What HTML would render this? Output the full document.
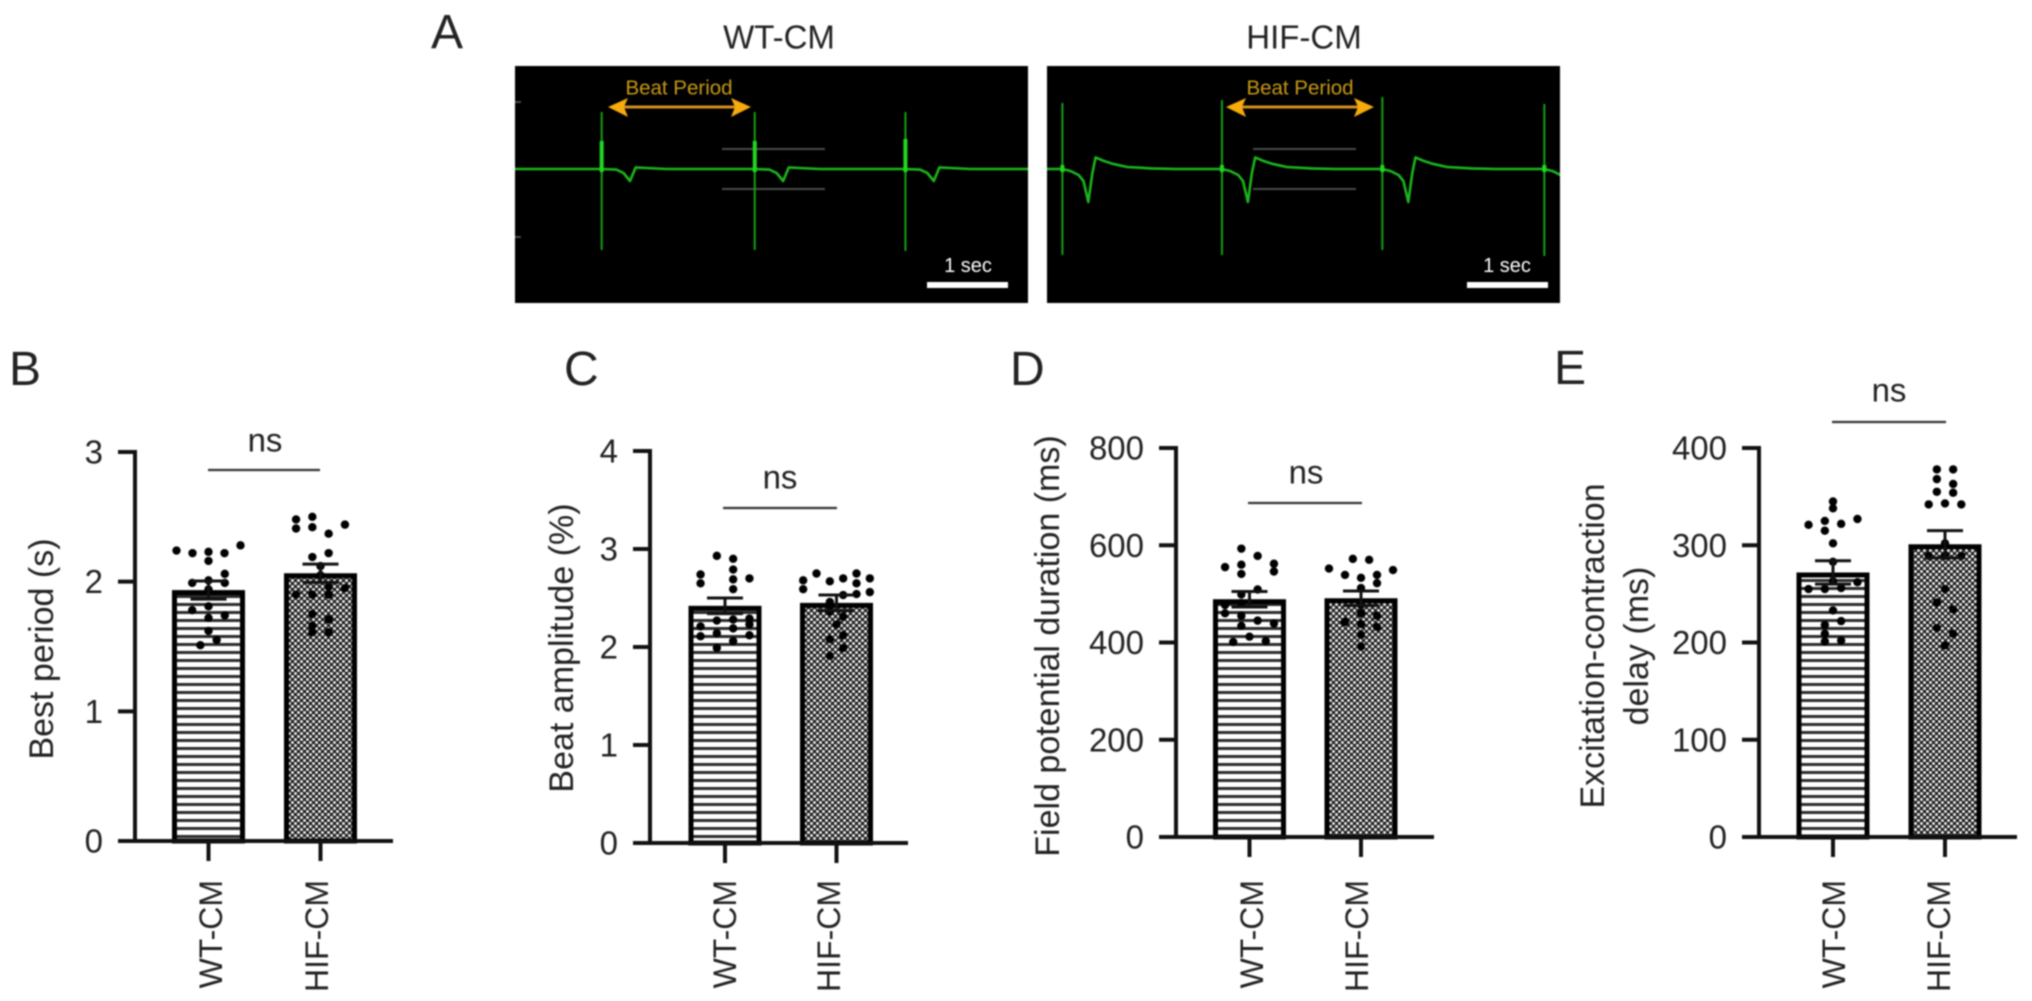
<!DOCTYPE html>
<html lang="en">
<head>
<meta charset="utf-8">
<title>Beat parameters of WT-CM and HIF-CM</title>
<style>
  html, body { margin: 0; padding: 0; background: #fff; }
  body { width: 2032px; height: 1001px; overflow: hidden; }
  svg { display: block; filter: blur(0.7px); }
  text { font-family: "Liberation Sans", sans-serif; fill: #222; }
</style>
</head>
<body>
<svg id="figure" xmlns="http://www.w3.org/2000/svg" width="2032" height="1001" viewBox="0 0 2032 1001">
  <defs>
    <pattern id="stripes" width="8" height="8" patternUnits="userSpaceOnUse">
      <rect width="8" height="8" fill="#fff"></rect>
      <rect y="3" width="8" height="3" fill="#2c2c2c"></rect>
    </pattern>
    <pattern id="checks" width="6" height="6" patternUnits="userSpaceOnUse">
      <rect width="6" height="6" fill="#1c1c1c"></rect>
      <circle cx="1.5" cy="1.5" r="1.5" fill="#f2f2f2"></circle>
      <circle cx="4.5" cy="4.5" r="1.5" fill="#f2f2f2"></circle>
    </pattern>
    <clipPath id="clip-wt"><rect x="515" y="66" width="513" height="237"></rect></clipPath>
    <clipPath id="clip-hif"><rect x="1047" y="66" width="513" height="237"></rect></clipPath>
  </defs>

  <text x="431" y="48" font-size="48">A</text>
  <text x="9" y="385" font-size="48">B</text>
  <text x="564" y="385" font-size="48">C</text>
  <text x="1010" y="385" font-size="48">D</text>
  <text x="1554" y="384" font-size="48">E</text>

  <text x="779" y="37" font-size="33" text-anchor="middle" dominant-baseline="central">WT-CM</text>
  <text x="1304" y="37" font-size="33" text-anchor="middle" dominant-baseline="central">HIF-CM</text>

  <rect x="515" y="66" width="513" height="237" fill="#000"></rect>
  <rect x="1047" y="66" width="513" height="237" fill="#000"></rect>

  <g stroke="#4a4a4a" stroke-width="2">
    <line x1="722" x2="825" y1="149" y2="149"></line>
    <line x1="722" x2="825" y1="189" y2="189"></line>
    <line x1="515" x2="521" y1="102" y2="102"></line>
    <line x1="515" x2="521" y1="237" y2="237"></line>
  </g>
  <g stroke="#4a4a4a" stroke-width="2">
    <line x1="1253" x2="1356" y1="149" y2="149"></line>
    <line x1="1253" x2="1356" y1="189" y2="189"></line>
  </g>

  <g id="traces"></g>

  <g>
    <text x="679" y="88" font-size="20.5" text-anchor="middle" dominant-baseline="central" style="fill:#c99a14">Beat Period</text>
    <line x1="622" x2="736" y1="107" y2="107" stroke="#d8901c" stroke-width="3"></line>
    <polygon points="608,107 628,98 624,107 628,117" fill="#f7ab0c"></polygon>
    <polygon points="751,107 731,98 735,107 731,117" fill="#f7ab0c"></polygon>
  </g>
  <g>
    <text x="1300" y="88" font-size="20.5" text-anchor="middle" dominant-baseline="central" style="fill:#c99a14">Beat Period</text>
    <line x1="1240" x2="1360" y1="107" y2="107" stroke="#d8901c" stroke-width="3"></line>
    <polygon points="1226,107 1246,98 1242,107 1246,117" fill="#f7ab0c"></polygon>
    <polygon points="1374,107 1354,98 1358,107 1354,117" fill="#f7ab0c"></polygon>
  </g>

  <text x="968" y="266" font-size="20" text-anchor="middle" dominant-baseline="central" style="fill:#fff">1 sec</text>
  <rect x="927" y="282" width="81" height="6" fill="#fff"></rect>
  <text x="1507" y="266" font-size="20" text-anchor="middle" dominant-baseline="central" style="fill:#fff">1 sec</text>
  <rect x="1467" y="282" width="81" height="6" fill="#fff"></rect>

  <g id="charts"></g>
</svg>

<script>
// ---------- Panel A trace data (seconds and normalised voltage units) ----------
const wtBeatTimes = [1.07, 2.96, 4.82];
const wtSpikeTops = [2.85, 2.85, 2.85];
const wtSpikeBottoms = [-4.05, -4.05, -4.1];
const wtSpikeCores = [1.4, 1.4, 1.5];
const wtWaveOffsets = [0, 0.18, 0.27, 0.35, 0.42, 0.55, 0.8, 1.1];
const wtWaveValues = [0, -0.03, -0.2, -0.6, 0.08, 0.05, 0.0, 0];

const hifBeatTimes = [0.19, 2.16, 4.14, 6.14];
const hifSpikeTops = [3.3, 3.45, 3.6, 3.25];
const hifSpikeBottoms = [-4.3, -4.3, -4.05, -4.35];
const hifSpikeCores = [0.2, 0.2, 0.2, 0.2];
const hifWaveOffsets = [0, 0.1, 0.2, 0.26, 0.32, 0.37, 0.41, 0.5, 0.62, 0.8, 1.1, 1.4];
const hifWaveValues = [0, -0.1, -0.3, -0.6, -1.65, -0.2, 0.58, 0.42, 0.26, 0.1, 0.03, 0];

// ---------- Bar chart data ----------
const categories = ['WT-CM', 'HIF-CM'];

const bTicks = [0, 1, 2, 3];
const bMeans = [1.935, 2.065];
const bSems = [0.07, 0.07];
const bWtRows = [
  [2.24, 2.22, 2.23, 2.22, 2.28], [2.16], [null, null, 2.06], [1.99, 2.01, 1.99], [1.94],
  [1.78, 1.81, 1.74], [1.72], [1.62], [1.51, 1.55]
];
const bHifRows = [
  [2.48, 2.50, null, null], [2.41, 2.42, 2.37, 2.44], [2.19, 2.22], [2.12], [2.05],
  [null, null, 1.96, 1.95], [1.90, 1.90, 1.90, null], [1.75, 1.71], [1.66, null], [1.61, 1.61]
];

const cTicks = [0, 1, 2, 3, 4];
const cMeans = [2.42, 2.45];
const cSems = [0.08, 0.08];
const cWtRows = [
  [null, 2.93, 2.90, null], [null, null, 2.79, null], [2.74, null, 2.69, 2.70], [2.65, null, 2.59, null],
  [null, 2.27, 2.28, 2.29], [2.21, null, 2.19, 2.23], [2.11, 2.14, null, 2.12], [null, 1.99, 2.06, null]
];
const cHifRows = [
  [null, 2.75, null, null, 2.75, null], [2.68, null, 2.67, 2.70, 2.65, 2.70], [2.59, null, null, 2.53, 2.54, 2.56],
  [null, null, 2.46, null, null, null], [null, null, 2.36, 2.31, null, null], [2.23],
  [null, null, 2.08, 2.12, null, null], [null, null, null, 1.99, null, null], [null, null, 1.91, null, null, null]
];

const dTicks = [0, 200, 400, 600, 800];
const dMeans = [489, 491];
const dSems = [16, 15];
const dWtRows = [
  [null, 593, null, null], [null, null, 578, null], [555, 560, null, 562], [null, 541, null, 546],
  [null, null, 509, null], [null, 499, null, null], [477, 481, null, null], [460, 455, null, null],
  [null, 434, 445, 439], [412], [401, null, 403]
];
const dHifRows = [
  [572, 570], [552, null, null, null, 549], [null, 539, 533, 539, null], [null, null, 512, 522, null],
  [null, null, 477, null, null], [null, null, 460, 455, null], [null, 442, 438, 432, null],
  [null, null, 416, null, null], [null, null, 392, null, null]
];

const eTicks = [0, 100, 200, 300, 400];
const eMeans = [272, 301];
const eSems = [12, 14];
const eWtRows = [
  [345], [338], [321, 325, 322, 327], [null, 315, null, null], [302], [283], [263],
  [255, 255, 256, 262], [233], [null, 218, 222, null], [null, 209, null, null], [null, 201, 202, null]
];
const eHifRows = [
  [378, 378], [368, null], [null, 363], [355, 354], [342, 343, 342], [302], [289, 289, 289],
  [255], [241, null], [null, 234], [215, null], [null, 209], [197]
];

// ---------- Drawing ----------
const NS = 'http://www.w3.org/2000/svg';
function mk(tag, attrs, parent) {
  const el = document.createElementNS(NS, tag);
  for (const key in attrs) el.setAttribute(key, attrs[key]);
  parent.appendChild(el);
  return el;
}

function drawTrace(key, left, clip, beats, tops, bottoms, cores, offsets, values) {
  const pxPerSecond = 81;
  const pxPerUnit = 20;
  const baselineY = 169;
  const x = t => left + t * pxPerSecond;
  const y = v => baselineY - v * pxPerUnit;
  const root = document.getElementById('traces');
  const g = mk('g', { 'clip-path': 'url(#' + clip + ')' }, root);
  
  

  let d = 'M' + left + ' ' + y(0);
  beats.forEach(beat => {
    offsets.forEach((off, i) => {
      d += ' L' + x(beat + off).toFixed(1) + ' ' + y(values[i]).toFixed(1);
    });
  });
  d += ' L' + (left + 520) + ' ' + y(0);
  const wave = mk('path', { d: d, fill: 'none', stroke: '#1cb51c', 'stroke-width': 2.6, 'stroke-linejoin': 'round' }, g);
  
  

  beats.forEach((beat, i) => {
    const spike = mk('line', { x1: x(beat), x2: x(beat), y1: y(tops[i]), y2: y(bottoms[i]), stroke: '#16a016', 'stroke-width': 2 }, g);
    
    
    const core = mk('line', { x1: x(beat), x2: x(beat), y1: y(cores[i]), y2: y(-0.15), stroke: '#22d622', 'stroke-width': 4 }, g);
    
    
  });
}

function drawPanel(p) {
  const root = document.getElementById('charts');
  const g = mk('g', {}, root);
  
  

  const maxTick = p.ticks[p.ticks.length - 1];
  const yScale = v => p.y0 - (v / maxTick) * (p.y0 - p.yTop);

  // bars, drawn first so that axes, whiskers and dots sit on top
  const barWidth = 73;
  const fills = ['url(#stripes)', 'url(#checks)'];
  categories.forEach((cat, i) => {
    const cx = p.barCenters[i];
    const top = yScale(p.means[i]);
    const bar = mk('rect', {
      x: cx - barWidth / 2 + 2.5, y: top + 2.5, width: barWidth - 5, height: p.y0 - top - 2.5,
      fill: fills[i], stroke: '#000', 'stroke-width': 5
    }, g);
    
    
  });

  // axes
  const yAxis = mk('line', { x1: p.axisX, x2: p.axisX, y1: p.yTop - 2, y2: p.y0 + 2, stroke: '#111', 'stroke-width': 4 }, g);
  
  
  const xAxis = mk('line', { x1: p.axisX - 17, x2: p.axisX + 258, y1: p.y0, y2: p.y0, stroke: '#111', 'stroke-width': 4 }, g);
  
  

  p.ticks.forEach(t => {
    const tick = mk('line', { x1: p.axisX - 17, x2: p.axisX, y1: yScale(t), y2: yScale(t), stroke: '#111', 'stroke-width': 4 }, g);
    
    
    const label = mk('text', { x: p.axisX - 32, y: yScale(t), 'font-size': 33, 'text-anchor': 'end', 'dominant-baseline': 'central' }, g);
    label.textContent = String(t);
    
    
  });

  categories.forEach((cat, i) => {
    const cx = p.barCenters[i];
    const tick = mk('line', { x1: cx, x2: cx, y1: p.y0, y2: p.y0 + 20, stroke: '#111', 'stroke-width': 4 }, g);
    
    
    const lx = p.labelCenters[i];
    const label = mk('text', {
      x: lx, y: 880, 'font-size': 32, 'text-anchor': 'end', 'dominant-baseline': 'central',
      transform: 'rotate(-90 ' + lx + ' 880)'
    }, g);
    label.textContent = cat;
    
    
  });

  // swarm dots: each row is centred on its bar
  const rowSets = [p.wtRows, p.hifRows];
  rowSets.forEach((rows, i) => {
    const cx = p.barCenters[i];
    rows.forEach(row => {
      const spacing = Math.min(16.3, 80 / row.length);
      row.forEach((v, j) => {
        if (v === null) return;
        const dot = mk('circle', { cx: cx + (j - (row.length - 1) / 2) * spacing, cy: yScale(v), r: 4.2, fill: '#000' }, g);
        
        
      });
    });
  });

  // error bars
  categories.forEach((cat, i) => {
    const cx = p.barCenters[i];
    const hi = yScale(p.means[i] + p.sems[i]);
    const lo = yScale(p.means[i] - p.sems[i]);
    const stem = mk('line', { x1: cx, x2: cx, y1: hi, y2: lo, stroke: '#111', 'stroke-width': 3 }, g);
    
    
    const capTop = mk('line', { x1: cx - 18, x2: cx + 18, y1: hi, y2: hi, stroke: '#111', 'stroke-width': 3 }, g);
    
    
    const capLow = mk('line', { x1: cx - 18, x2: cx + 18, y1: lo, y2: lo, stroke: '#111', 'stroke-width': 3 }, g);
    
    
  });

  // significance marker
  const sig = mk('line', { x1: p.sigX1, x2: p.sigX2, y1: p.sigY, y2: p.sigY, stroke: '#333', 'stroke-width': 2.2 }, g);
  
  
  const ns = mk('text', { x: (p.sigX1 + p.sigX2) / 2 + p.nsShift, y: p.nsY, 'font-size': 33, 'text-anchor': 'middle', 'dominant-baseline': 'central' }, g);
  ns.textContent = 'ns';
  
  

  // y-axis title, one or two lines
  p.titles.forEach((title, i) => {
    const tx = p.titleX[i];
    const label = mk('text', {
      x: tx, y: p.titleY, 'font-size': 34, 'text-anchor': 'middle', 'dominant-baseline': 'central',
      transform: 'rotate(-90 ' + tx + ' ' + p.titleY + ')'
    }, g);
    label.textContent = title;
    
    
  });
}

drawTrace('wt', 515, 'clip-wt', wtBeatTimes, wtSpikeTops, wtSpikeBottoms, wtSpikeCores, wtWaveOffsets, wtWaveValues);
drawTrace('hif', 1047, 'clip-hif', hifBeatTimes, hifSpikeTops, hifSpikeBottoms, hifSpikeCores, hifWaveOffsets, hifWaveValues);

drawPanel({
  key: 'beat-period', ticks: bTicks, means: bMeans, sems: bSems, wtRows: bWtRows, hifRows: bHifRows,
  y0: 841, yTop: 452, axisX: 135, barCenters: [208.5, 320.5], labelCenters: [211, 317],
  sigX1: 208, sigX2: 320, sigY: 470, nsY: 440, nsShift: 1,
  titles: ['Best period (s)'], titleX: [42], titleY: 649
});
drawPanel({
  key: 'beat-amplitude', ticks: cTicks, means: cMeans, sems: cSems, wtRows: cWtRows, hifRows: cHifRows,
  y0: 843, yTop: 451, axisX: 650, barCenters: [725, 836.5], labelCenters: [725, 829],
  sigX1: 723, sigX2: 837, sigY: 508, nsY: 477, nsShift: 0,
  titles: ['Beat amplitude (%)'], titleX: [562], titleY: 648
});
drawPanel({
  key: 'field-potential', ticks: dTicks, means: dMeans, sems: dSems, wtRows: dWtRows, hifRows: dHifRows,
  y0: 837, yTop: 448, axisX: 1176, barCenters: [1249.5, 1361], labelCenters: [1252, 1357],
  sigX1: 1248, sigX2: 1362, sigY: 503, nsY: 472, nsShift: 1,
  titles: ['Field potential duration (ms)'], titleX: [1048], titleY: 646
});
drawPanel({
  key: 'excitation-contraction', ticks: eTicks, means: eMeans, sems: eSems, wtRows: eWtRows, hifRows: eHifRows,
  y0: 837, yTop: 448, axisX: 1759, barCenters: [1833, 1945], labelCenters: [1834, 1939],
  sigX1: 1832, sigX2: 1946, sigY: 422, nsY: 390, nsShift: 0,
  titles: ['Excitation-contraction', 'delay (ms)'], titleX: [1593, 1637], titleY: 646
});
</script>
</body>
</html>
